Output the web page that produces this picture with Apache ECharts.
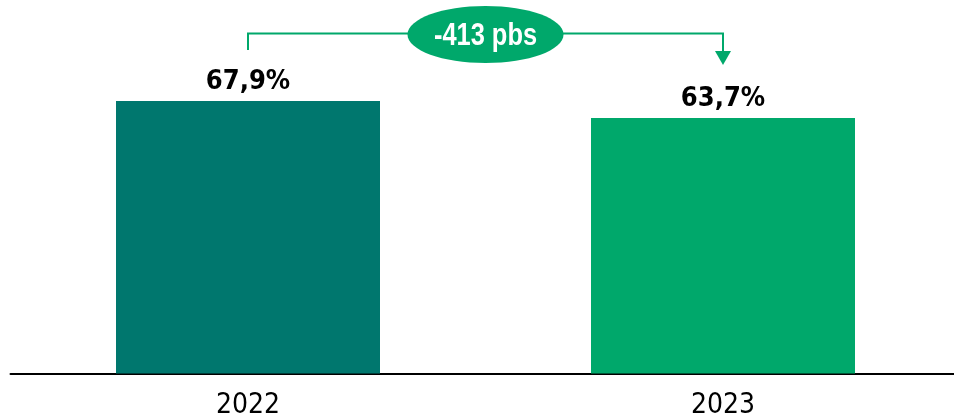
<!DOCTYPE html>
<html>
<head>
<meta charset="utf-8">
<script src="https://cdn.jsdelivr.net/npm/echarts@6/dist/echarts.min.js"></script>
<style>
html,body{margin:0;padding:0;background:#fff;}
#c{width:954px;height:419px;}
</style>
</head>
<body>
<div id="c"></div>
<script>
var categories = ['2022', '2023'];
var values = [67.9, 63.7];
var barColors = ['#00776E', '#00A86B'];
var deltaLabel = '-413 pbs';

var FONT = "'Liberation Sans Narrow','Arial Narrow','DejaVu Sans Condensed',sans-serif";
var chart = echarts.init(document.getElementById('c'));
chart.setOption({
  animation: false,
  grid: { left: 10.5, right: -6.5, top: 52.5, bottom: 45.5, containLabel: false, outerBoundsMode: 'none' },
  xAxis: {
    type: 'category',
    data: categories,
    axisTick: { show: false },
    axisLine: { lineStyle: { color: '#000', width: 2 } },
    axisLabel: { color: '#000', fontFamily: FONT, fontSize: 28, margin: 18 }
  },
  yAxis: {
    type: 'value', min: 0, max: 80, show: false,
    splitLine: { show: false }
  },
  series: [{
    type: 'bar',
    barWidth: 264,
    data: values.map(function (v, i) { return { value: v, itemStyle: { color: barColors[i] } }; }),
    label: {
      show: true, position: 'top', distance: 5.5,
      color: '#000', fontFamily: FONT, fontWeight: 'bold', fontSize: 27,
      formatter: function (p) { return String(p.value).replace('.', ',') + '%'; }
    }
  }]
});

var p0 = chart.convertToPixel({ seriesIndex: 0 }, [0, values[0]]);
var p1 = chart.convertToPixel({ seriesIndex: 0 }, [1, values[1]]);
var green = barColors[1];
var lineY = p0[1] - 67.5;
var tipY = p1[1] - 53;
var midX = (p0[0] + p1[0]) / 2;
chart.setOption({
  graphic: [
    { type: 'polyline', z: 10,
      shape: { points: [[p0[0], p0[1] - 51], [p0[0], lineY], [p1[0], lineY], [p1[0], tipY - 14]] },
      style: { stroke: green, lineWidth: 2, fill: null } },
    { type: 'polygon', z: 10,
      shape: { points: [[p1[0] - 8, tipY - 14], [p1[0] + 8, tipY - 14], [p1[0], tipY]] },
      style: { fill: green } },
    { type: 'ellipse', z: 11,
      shape: { cx: midX, cy: lineY + 1, rx: 78, ry: 28.5 },
      style: { fill: green } },
    { type: 'text', z: 12, x: midX, y: lineY + 2.5, scaleX: 0.82,
      style: { text: deltaLabel, fill: '#fff', font: "bold 31px 'Liberation Sans',Arial,sans-serif", textAlign: 'center', textVerticalAlign: 'middle' } }
  ]
});
</script>
</body>
</html>
